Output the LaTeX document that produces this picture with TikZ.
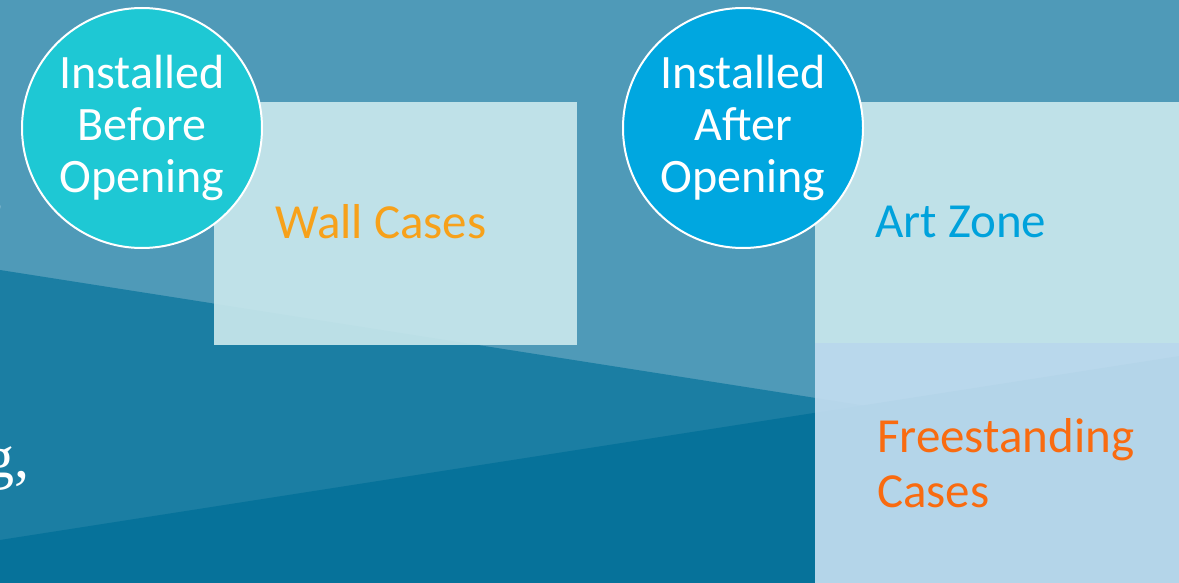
\documentclass[tikz,border=0pt]{standalone}
\usepackage{fontspec}
\setmainfont{Carlito}
\newfontfamily\slideserif{Liberation Serif}
\usetikzlibrary{positioning}

\definecolor{slidebg}{RGB}{79,154,184}
\definecolor{bandmid}{RGB}{27,126,163}
\definecolor{banddark}{RGB}{6,114,154}
\definecolor{tealdot}{RGB}{30,200,212}
\definecolor{bluedot}{RGB}{0,167,224}
\definecolor{paneltop}{RGB}{200,231,236}
\definecolor{panelbot}{RGB}{194,221,240}
\definecolor{caseorange}{RGB}{247,161,26}
\definecolor{freeorange}{RGB}{249,107,16}
\definecolor{artblue}{RGB}{0,162,220}

\begin{document}
\begin{tikzpicture}[x=1pt, y=-1pt,
    badge/.style={circle, draw=white, line width=2pt, minimum size=240pt, inner sep=0pt,
                  text=white, align=center, font=\fontsize{48}{52}\selectfont},
    panel/.style={rectangle, inner sep=0pt, fill opacity=0.93, anchor=north west},
    zonetext/.style={inner sep=0pt, anchor=base west, align=left,
                     font=\fontsize{49}{55}\selectfont},
    edgetext/.style={inner sep=0pt, anchor=base east, text=white,
                     font=\slideserif\fontsize{60}{66}\selectfont}]
  \useasboundingbox (0,0) rectangle (1179,583);
  \clip (0,0) rectangle (1179,583);

  % background bands
  \fill[slidebg] (0,0) rectangle (1179,583);
  \fill[bandmid] (0,270) -- (1179,455) -- (1179,583) -- (0,583) -- cycle;
  \fill[banddark] (0,540) -- (1179,356) -- (1179,583) -- (0,583) -- cycle;

  % text cut off at the left edge
  \node[edgetext] (cuttop) at (5,209) {,};
  \node[edgetext] (cutlow) at (30,477) {g,};

  % panels
  \node[panel, fill=paneltop, minimum width=363pt, minimum height=243pt] (wallbox) at (214,102) {};
  \node[panel, fill=paneltop, minimum width=364pt, minimum height=241pt] (artbox) at (815,102) {};
  \node[panel, fill=panelbot, minimum width=364pt, minimum height=240pt] (freebox) at (815,343) {};

  % badges
  \node[badge, fill=tealdot] (before) at (142,128) {Installed\\Before\\Opening};
  \node[badge, fill=bluedot] (after) at (743,128) {Installed\\After\\Opening};

  % labels (base of a two-line label is its last line)
  \node[zonetext, text=caseorange] (walltext) at (275,238) {Wall Cases};
  \node[zonetext, text=artblue] (arttext) at (875,237) {Art Zone};
  \node[zonetext, text=freeorange] (freetext) at (877,507) {Freestanding\\Cases};
\end{tikzpicture}
\end{document}
